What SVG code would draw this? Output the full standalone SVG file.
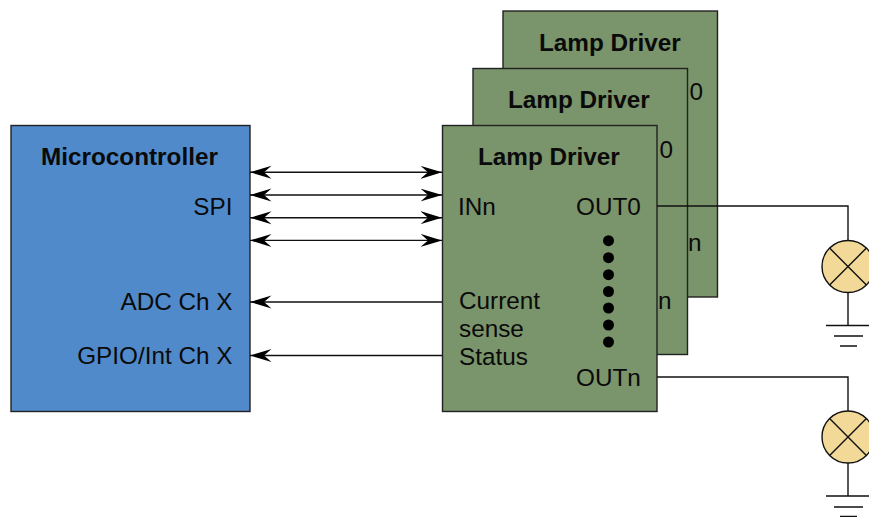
<svg xmlns="http://www.w3.org/2000/svg" width="869" height="517" viewBox="0 0 869 517">
<style>
text{font-family:"Liberation Sans",Arial,sans-serif;font-size:24.300px;fill:#0a0a0a}
.b{font-weight:700}
.e{text-anchor:end}
.box{stroke:#222;stroke-width:1.4}
.drv{fill:#7a946b}
.w{fill:none;stroke:#111;stroke-width:1.4}
.a{stroke:#111;stroke-width:1.4;fill:none;marker-start:url(#h)}
.d{marker-end:url(#h2)}
.lamp{fill:#f3d998;stroke:#111;stroke-width:1.4}
</style>
<defs>
<marker id="h" markerUnits="userSpaceOnUse" markerWidth="22" markerHeight="14" refX="0" refY="7" orient="auto"><path d="M0 7L21.500 0.500L14 7L21.500 13.500Z" fill="#000"/></marker>
<marker id="h2" markerUnits="userSpaceOnUse" markerWidth="22" markerHeight="14" refX="21.500" refY="7" orient="auto"><path d="M21.500 7L0 0.500L7.500 7L0 13.500Z" fill="#000"/></marker>
</defs>
<g id="driver-back">
<rect class="box drv" x="503" y="11" width="214.500" height="286"/>
<text class="b" x="539" y="51">Lamp Driver</text>
<text x="689.500" y="100">0</text>
<text x="688" y="251">n</text>
</g>
<g id="driver-middle">
<rect class="box drv" x="473" y="68.500" width="214.500" height="286"/>
<text class="b" x="508" y="108">Lamp Driver</text>
<text x="659.500" y="158">0</text>
<text x="658" y="309">n</text>
</g>
<g id="driver-front">
<rect class="box drv" x="442.500" y="125.500" width="214.500" height="286"/>
<text class="b" x="478" y="165">Lamp Driver</text>
<text x="458" y="215">INn</text>
<text x="576" y="215">OUT0</text>
<text x="459" y="309">Current</text>
<text x="459" y="337">sense</text>
<text x="459" y="365">Status</text>
<text x="576" y="386">OUTn</text>
<g fill="#000">
<circle cx="608.500" cy="240.700" r="5.500"/><circle cx="608.500" cy="257.700" r="5.500"/><circle cx="608.500" cy="274.700" r="5.500"/><circle cx="608.500" cy="291.500" r="5.500"/><circle cx="608.500" cy="308" r="5.500"/><circle cx="608.500" cy="325" r="5.500"/><circle cx="608.500" cy="342" r="5.500"/>
</g>
</g>
<g id="microcontroller">
<rect class="box" fill="#508acb" x="11" y="125.500" width="239" height="286"/>
<text class="b" x="41" y="165">Microcontroller</text>
<text class="e" x="232.500" y="215">SPI</text>
<text class="e" x="232.500" y="310">ADC Ch X</text>
<text class="e" x="232.500" y="364">GPIO/Int Ch X</text>
</g>
<g id="lamp-0">
<circle class="lamp" cx="848" cy="266.500" r="26"/>
<path class="w" d="M829.600 248.100L866.400 284.900M866.400 248.100L829.600 284.900"/>
<path class="w" d="M826 325.500H870M834 336H863M840 346H857"/>
</g>
<g id="lamp-n">
<circle class="lamp" cx="848" cy="437" r="26"/>
<path class="w" d="M829.600 418.600L866.400 455.400M866.400 418.600L829.600 455.400"/>
<path class="w" d="M826 496H870M834 507H863M840 516.500H857"/>
</g>
<g id="connectors">
<path class="a d" d="M250 172.300H442"/>
<path class="a d" d="M250 195H442"/>
<path class="a d" d="M250 217.700H442"/>
<path class="a d" d="M250 240.400H442"/>
<path class="a" d="M250 302H442"/>
<path class="a" d="M250 355.500H442"/>
<path class="w" d="M657 206H848V240.500"/>
<path class="w" d="M848 292.500V325.500"/>
<path class="w" d="M657 377H848V411"/>
<path class="w" d="M848 463V496"/>
</g>
</svg>
